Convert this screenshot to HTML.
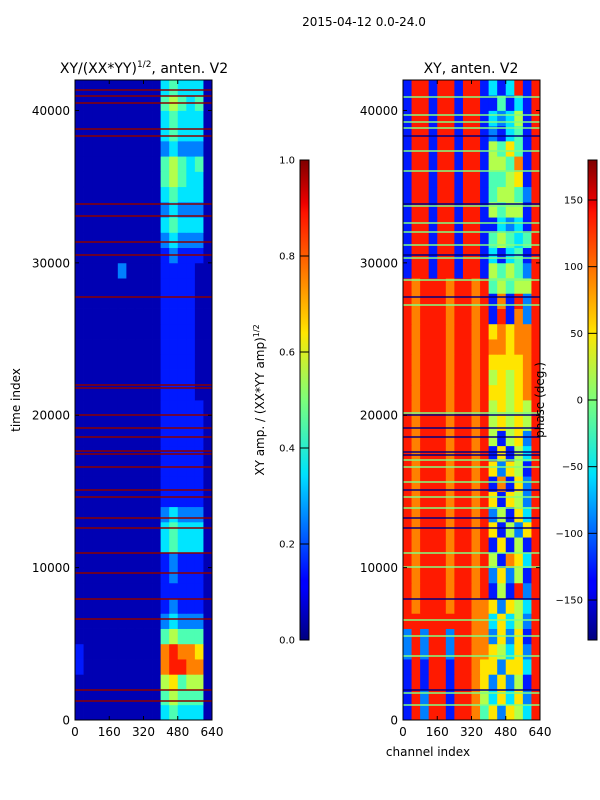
<!DOCTYPE html>
<html><head><meta charset="utf-8">
<style>
html,body{margin:0;padding:0;background:#fff;}
svg{display:block;font-family:"DejaVu Sans","Liberation Sans",sans-serif;}
</style></head>
<body>
<svg id="fig" width="600" height="800" viewBox="0 0 600 800" xmlns="http://www.w3.org/2000/svg">
<defs>
<linearGradient id="jet" x1="0" y1="1" x2="0" y2="0">
<stop offset="0" stop-color="#00007f"/><stop offset="0.11" stop-color="#0000ff"/>
<stop offset="0.125" stop-color="#0000ff"/><stop offset="0.34" stop-color="#00dcff"/>
<stop offset="0.35" stop-color="#00e4f8"/><stop offset="0.5" stop-color="#7cff7a"/>
<stop offset="0.64" stop-color="#ffe600"/><stop offset="0.66" stop-color="#ffd200"/>
<stop offset="0.89" stop-color="#ff1200"/><stop offset="0.91" stop-color="#ed0000"/>
<stop offset="1" stop-color="#7f0000"/>
</linearGradient>
</defs>
<text x="364" y="26" font-size="12" text-anchor="middle">2015-04-12 0.0-24.0</text>
<g id="left"></g>
<g id="right"></g>
<text x="144" y="73" font-size="14" text-anchor="middle">XY/(XX*YY)<tspan dy="-6" font-size="9">1/2</tspan><tspan dy="6">, anten. V2</tspan></text>
<text x="471" y="73" font-size="14" text-anchor="middle">XY, anten. V2</text>
<text transform="translate(20,400) rotate(-90)" font-size="12" text-anchor="middle">time index</text>
<text x="428" y="756" font-size="12" text-anchor="middle">channel index</text>
<g id="cb1"></g>
<g id="cb2"></g>
<text transform="translate(264,400) rotate(-90)" font-size="12" text-anchor="middle">XY amp. / (XX*YY amp)<tspan dy="-5" font-size="8">1/2</tspan></text>
<text transform="translate(544,400) rotate(-90)" font-size="12" text-anchor="middle">phase (deg.)</text>
</svg>
<script>
// ---- data ----
const timeTicks = [0, 10000, 20000, 30000, 40000];
const chanTicks = [0, 160, 320, 480, 640];
const ampTicks = [0.0, 0.2, 0.4, 0.6, 0.8, 1.0];
const phaseTicks = [-150, -100, -50, 0, 50, 100, 150];
// amplitude grid: row 0 = time 0-1000, each char = value bin (d+0.5)/10, 16 channel bins of 40
const ampRows = [
"0000000000343330","0000000000454440","0000000000564550","1000000000788770","1000000000787760",
"0000000000454440","0000000000232220","0000000000121110","0000000000111110","0000000000121110",
"0000000000121110","0000000000343330","0000000000343330","0000000000232220","0000000000111110",
"0000000000111110","0000000000111110","0000000000111110","0000000000111110","0000000000111110",
"0000000000111110","0000000000111100","0000000000111100","0000000000111100","0000000000111100",
"0000000000111100","0000000000111100","0000000000111100","0000000000111100","0000020000111100",
"0000000000121110","0000000000232220","0000000000343330","0000000000232220","0000000000343330",
"0000000000454330","0000000000454340","0000000000232220","0000000000343330","0000000000343330",
"0000000000454340","0000000000343330"];
// phase grid: each char d -> phase -180+(d+0.5)*36 deg
const phaseRows = [
"1828818874626538","1828818875363628","1818818876262518","1818818876626638","2828828877653628",
"2828828877262618","8888888877363528","8788878877626538","8788878878151828","8788878878262518",
"8788878878517638","8788878878161518","8788878878615268","8788878878251638","8788878878616528",
"8788878878171628","8788878878626518","8788878878161538","8788878878515628","8788878878565658",
"8788878878565658","8788878878665678","8788878878565678","8788878878666678","8788878878776778",
"8788878878676778","8788878878181728","8788878878171828","8788878878454558","1881881881545428",
"1881881881313418","1881881881454348","1881881881132318","1881881881545518","1881881881455428",
"1881881881445618","1881881881554718","1881881881546418","1881881881213418","1881881881323518",
"1881881881141318","1881881881313818"];
const ampFlagTimes = [41344,40950,40491,38784,38325,33863,33075,31369,30516,27760,21984,21788,20016,19163,18572,17653,17456,16603,15094,14634,13256,12600,10959,9647,7941,6628,1969,1247];
const phaseNavyTimes = [38325,33863,30516,27760,20016,19163,18572,17588,17391,15094,13256,12600,7941,1969];
const phaseGreenTimes = [40884,39703,39244,38850,37341,36028,33731,32616,32025,31172,30319,28875,27234,20147,17063,16603,15619,14634,13913,10959,10041,6563,5513,4200,1772,984];

// ---- helpers ----
const NS = "http://www.w3.org/2000/svg";
function jet(v){
  v=Math.max(0,Math.min(1,v));
  const r=Math.min(4*v-1.5,-4*v+4.5), g=Math.min(4*v-0.5,-4*v+3.5), b=Math.min(4*v+0.5,-4*v+2.5);
  const c=x=>Math.round(255*Math.max(0,Math.min(1,x)));
  return "rgb("+c(r)+","+c(g)+","+c(b)+")";
}
function mk(tag, attrs, parent){
  const e=document.createElementNS(NS,tag);
  for(const k in attrs) e.setAttribute(k,attrs[k]);
  parent.appendChild(e); return e;
}
const TMAX=42000, CMAX=640, PT=80, PB=720, PH=640, PW=137;
function panel(gid, x0, rows, toVal, flagSets){
  const g=document.getElementById(gid);
  const ty=t=>PB - t/TMAX*PH;
  const cx=c=>x0 + c/CMAX*PW;
  const nr=rows.length, binT=TMAX/nr;
  rows.forEach((row,ri)=>{
    for(let ci=0;ci<row.length;ci++){
      const binC=CMAX/row.length;
      const y1=ty((ri+1)*binT), y0=ty(ri*binT);
      const x1=cx(ci*binC), x2=cx((ci+1)*binC);
      const r=mk("rect",{x:x1,y:y1,width:x2-x1+0.4,height:y0-y1+0.4,fill:jet(toVal(+row[ci]))},g);
      
      
    }
  });
  flagSets.forEach(fs=>{
    fs.times.forEach(t=>{
      const l=mk("line",{x1:x0,x2:x0+PW,y1:ty(t),y2:ty(t),stroke:fs.color,"stroke-width":fs.w},g);
      
      
    });
  });
  const fr=mk("rect",{x:x0,y:PT,width:PW,height:PH,fill:"none",stroke:"#000","stroke-width":1},g);
  
  
  timeTicks.forEach(t=>{
    const y=ty(t);
    mk("line",{x1:x0,x2:x0+4,y1:y,y2:y,stroke:"#000"},g);
    mk("line",{x1:x0+PW-4,x2:x0+PW,y1:y,y2:y,stroke:"#000"},g);
    const tx=mk("text",{x:x0-5,y:y+4.5,"font-size":"12","text-anchor":"end"},g);
    tx.textContent=t;
    
    
  });
  chanTicks.forEach(c=>{
    const x=cx(c);
    mk("line",{x1:x,x2:x,y1:PB,y2:PB-4,stroke:"#000"},g);
    mk("line",{x1:x,x2:x,y1:PT,y2:PT+4,stroke:"#000"},g);
    const tx=mk("text",{x:x,y:PB+16,"font-size":"12","text-anchor":"middle"},g);
    tx.textContent=c;
    
    
  });
}
panel("left",75,ampRows,d=>(d+0.5)/10,[{times:ampFlagTimes,color:"#8b0000",w:1.5}]);
panel("right",403,phaseRows,d=>(d+0.5)/10,[{times:phaseGreenTimes,color:"#80ff80",w:1.5},{times:phaseNavyTimes,color:"#000080",w:1.5}]);

function colorbar(gid,x0,ticks,vmin,vmax,fmt){
  const g=document.getElementById(gid);
  const top=160,h=480,w=9;
  const r=mk("rect",{x:x0,y:top,width:w,height:h,fill:"url(#jet)",stroke:"#000","stroke-width":1},g);
  
  
  ticks.forEach(v=>{
    const y=top+h-(v-vmin)/(vmax-vmin)*h;
    mk("line",{x1:x0,x2:x0+w,y1:y,y2:y,stroke:"#000"},g);
    const tx=mk("text",{x:x0-5,y:y+3.5,"font-size":"10","text-anchor":"end"},g);
    tx.textContent=fmt(v);
    
    
  });
}
colorbar("cb1",300,ampTicks,0,1,v=>v.toFixed(1));
colorbar("cb2",588,phaseTicks,-180,180,v=>v<0?"\u2212"+(-v):String(v));
</script>
</body></html>
